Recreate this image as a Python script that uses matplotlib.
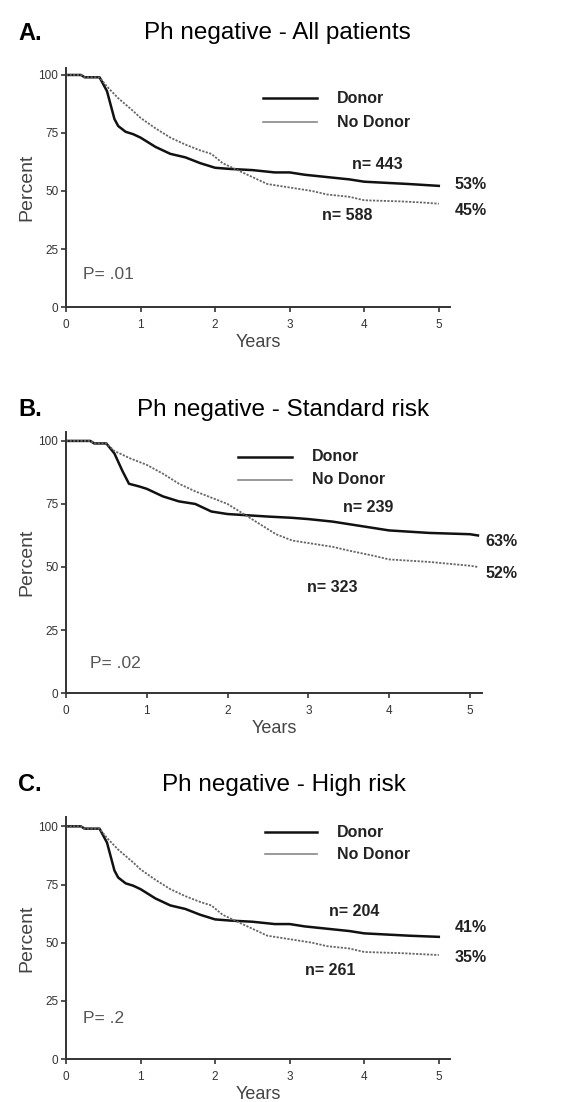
# Survival by donor availability, Ph negative ALL (three panels)
import matplotlib.pyplot as plt

plt.rcParams['font.family'] = ['Liberation Sans', 'DejaVu Sans']

# Panel A - all patients
a_donor_x = [0, 0.2, 0.25, 0.45, 0.5, 0.55, 0.6, 0.65, 0.7, 0.8, 0.9, 1.0, 1.1, 1.2, 1.3, 1.4, 1.6, 1.8, 2.0, 2.2, 2.5, 2.8, 3.0, 3.2, 3.5, 3.8, 4.0, 4.3, 4.6, 5.0]
a_donor_y = [100, 100, 99, 99, 96, 93, 87, 81, 78, 75.5, 74.5, 73, 71, 69, 67.5, 66, 64.5, 62, 60, 59.5, 59, 58, 58, 57, 56, 55, 54, 53.5, 53, 52.2]
a_nodon_x = [0, 0.2, 0.25, 0.45, 0.55, 0.7, 0.9, 1.0, 1.2, 1.4, 1.6, 1.8, 1.95, 2.1, 2.3, 2.5, 2.7, 3.0, 3.3, 3.5, 3.8, 4.0, 4.5, 4.8, 5.0]
a_nodon_y = [100, 100, 99, 99, 95, 90, 84.5, 81.5, 77, 73, 70, 67.5, 66, 62, 59, 56, 53, 51.5, 50, 48.5, 47.5, 46, 45.5, 45, 44.5]

# Panel B - standard risk
b_donor_x = [0, 0.3, 0.35, 0.5, 0.6, 0.7, 0.78, 0.9, 1.0, 1.2, 1.4, 1.6, 1.8, 2.0, 2.5, 2.8, 3.0, 3.3, 3.5, 3.8, 4.0, 4.5, 5.0, 5.1]
b_donor_y = [100, 100, 99, 99, 95, 88, 83, 82, 81, 78, 76, 75, 72, 71, 70, 69.5, 69, 68, 67, 65.5, 64.5, 63.5, 63, 62.5]
b_nodon_x = [0, 0.3, 0.35, 0.5, 0.6, 0.8, 1.0, 1.2, 1.4, 1.6, 1.8, 2.0, 2.2, 2.4, 2.6, 2.8, 3.0, 3.3, 3.5, 3.8, 4.0, 4.5, 5.0, 5.1]
b_nodon_y = [100, 100, 99, 99, 96, 93, 90.5, 87, 83, 80, 77.5, 75, 71, 67, 63, 60.5, 59.5, 58, 56.5, 54.5, 53, 52, 50.5, 50]

# Panel C - high risk
c_donor_x = [0, 0.2, 0.25, 0.45, 0.5, 0.55, 0.6, 0.65, 0.7, 0.8, 0.9, 1.0, 1.1, 1.2, 1.3, 1.4, 1.6, 1.8, 2.0, 2.2, 2.5, 2.8, 3.0, 3.2, 3.5, 3.8, 4.0, 4.3, 4.6, 5.0]
c_donor_y = [100, 100, 99, 99, 96, 93, 87, 81, 78, 75.5, 74.5, 73, 71, 69, 67.5, 66, 64.5, 62, 60, 59.5, 59, 58, 58, 57, 56, 55, 54, 53.5, 53, 52.5]
c_nodon_x = [0, 0.2, 0.25, 0.45, 0.55, 0.7, 0.9, 1.0, 1.2, 1.4, 1.6, 1.8, 1.95, 2.1, 2.3, 2.5, 2.7, 3.0, 3.3, 3.5, 3.8, 4.0, 4.5, 4.8, 5.0]
c_nodon_y = [100, 100, 99, 99, 95, 90, 84.5, 81.5, 77, 73, 70, 67.5, 66, 62, 59, 56, 53, 51.5, 50, 48.5, 47.5, 46, 45.5, 45, 44.7]

letters = ['A.', 'B.', 'C.']
titles = ['Ph negative - All patients', 'Ph negative - Standard risk', 'Ph negative - High risk']
n_donor = ['n= 443', 'n= 239', 'n= 204']
n_nodon = ['n= 588', 'n= 323', 'n= 261']
pct_donor = ['53%', '63%', '41%']
pct_nodon = ['45%', '52%', '35%']
pvals = ['P= .01', 'P= .02', 'P= .2']

panels = [
    dict(dx=a_donor_x, dy=a_donor_y, nx=a_nodon_x, ny=a_nodon_y,
         rect=[0.1126, 0.7214, 0.6553, 0.2169], ymax=103, title_y=0.970,
         leg_x=(2.64, 3.36), leg_y=(90, 79.7), leg_tx=3.63,
         nd=(4.18, 61.2), nn=(3.77, 39.6), pd=(5.43, 52.6), pn=(5.43, 41.8), p=(0.23, 13.8),
         title_x=0.474),
    dict(dx=b_donor_x, dy=b_donor_y, nx=b_nodon_x, ny=b_nodon_y,
         rect=[0.1126, 0.3711, 0.7099, 0.2368], ymax=103.5, title_y=0.628,
         leg_x=(2.13, 2.8), leg_y=(93.7, 84.5), leg_tx=3.04,
         nd=(3.74, 73.4), nn=(3.30, 41.7), pd=(5.39, 60), pn=(5.39, 47.6), p=(0.3, 11.9),
         title_x=0.483),
    dict(dx=c_donor_x, dy=c_donor_y, nx=c_nodon_x, ny=c_nodon_y,
         rect=[0.1126, 0.039, 0.6553, 0.2196], ymax=104, title_y=0.2877,
         leg_x=(2.67, 3.36), leg_y=(97.4, 87.9), leg_tx=3.63,
         nd=(3.87, 63.5), nn=(3.54, 38.2), pd=(5.43, 56.7), pn=(5.43, 43.8), p=(0.23, 17.6),
         title_x=0.485),
]

fig = plt.figure(figsize=(5.86, 11.02), dpi=100)
bold = dict(fontsize=11.5, fontweight='bold', color='#222222')

for i, pn in enumerate(panels):
    ax = fig.add_axes(pn['rect'])
    ax.plot(pn['dx'], pn['dy'], color='#111111', lw=1.8)
    ax.plot(pn['nx'], pn['ny'], color='#666666', lw=1.3, ls=(0, (1.2, 0.8)))
    ax.set_xlim(0, 5.15)
    ax.set_ylim(0, pn['ymax'])
    ax.set_xticks([0, 1, 2, 3, 4, 5])
    ax.set_yticks([0, 25, 50, 75, 100])
    for s in ['top', 'right']:
        ax.spines[s].set_visible(False)
    for s in ['left', 'bottom']:
        ax.spines[s].set_linewidth(1.4)
        ax.spines[s].set_color('#333333')
    ax.tick_params(labelsize=8.5, colors='#333333', length=3.5, width=1.2)
    ax.tick_params(axis='x', pad=5)
    ax.tick_params(axis='y', pad=2)
    ax.set_xlabel('Years', fontsize=13, color='#444444', labelpad=2)
    ax.set_ylabel('Percent', fontsize=14, color='#444444', labelpad=2)

    # legend drawn by hand
    ax.plot(pn['leg_x'], [pn['leg_y'][0]] * 2, color='#111111', lw=1.8, clip_on=False)
    ax.plot(pn['leg_x'], [pn['leg_y'][1]] * 2, color='#888888', lw=1.2, clip_on=False)
    ax.text(pn['leg_tx'], pn['leg_y'][0], 'Donor', va='center', ha='left', **bold)
    ax.text(pn['leg_tx'], pn['leg_y'][1], 'No Donor', va='center', ha='left', **bold)

    ax.text(*pn['nd'], n_donor[i], ha='center', va='center', **bold)
    ax.text(*pn['nn'], n_nodon[i], ha='center', va='center', **bold)
    ax.text(*pn['pd'], pct_donor[i], ha='center', va='center', clip_on=False, **bold)
    ax.text(*pn['pn'], pct_nodon[i], ha='center', va='center', clip_on=False, **bold)
    ax.text(*pn['p'], pvals[i], fontsize=12.5, ha='left', va='center', color='#555555')

    fig.text(0.031, pn['title_y'], letters[i], fontsize=17, fontweight='bold', ha='left', va='center')
    fig.text(pn['title_x'], pn['title_y'], titles[i], fontsize=17.5, ha='center', va='center')

fig.savefig('out.png', dpi=100)
